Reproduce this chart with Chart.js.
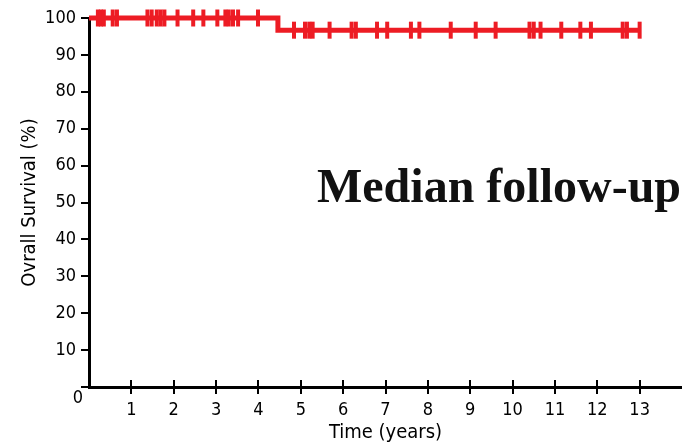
<!DOCTYPE html>
<html>
<head>
<meta charset="utf-8">
<script src="https://cdn.jsdelivr.net/npm/chart.js@4"></script>
<style>
  html, body { margin: 0; padding: 0; background: #fff; }
  #wrap { width: 682px; height: 446px; }
</style>
</head>
<body>
<div id="wrap"><canvas id="km"></canvas></div>
<script>
// survival curve (step points)
const curveTimes = [0, 4.46, 13.0];
const curveSurv = [100, 96.7, 96.7];

// censored patients
const censorTimes = [0.21, 0.28, 0.35, 0.56, 0.66, 1.38, 1.48, 1.6, 1.69, 1.78,
  2.09, 2.46, 2.7, 3.03, 3.22, 3.3, 3.4, 3.52, 3.99,
  4.84, 5.1, 5.2, 5.28, 5.68, 6.2, 6.3, 6.8, 7.04, 7.6, 7.8, 8.54, 9.13,
  9.6, 10.4, 10.5, 10.66, 11.15, 11.6, 11.85, 12.6, 12.7, 13.0];
const censorSurv = censorTimes.map(t => t < 4.46 ? 100 : 96.7);

const xTicks = [1, 2, 3, 4, 5, 6, 7, 8, 9, 10, 11, 12, 13];
const yTicks = [0, 10, 20, 30, 40, 50, 60, 70, 80, 90, 100];

const RED = '#ed1c24';
const FONT = "'Liberation Sans Narrow', 'DejaVu Sans Condensed', sans-serif";

const extras = {
  id: 'extras',
  afterDraw(chart) {
    const { ctx, scales: { x, y } } = chart;
    ctx.save();
    // inner half of x ticks
    ctx.strokeStyle = '#000';
    ctx.lineWidth = 2;
    xTicks.forEach(v => {
      const px = Math.round(x.getPixelForValue(v));
      ctx.beginPath();
      ctx.moveTo(px, y.bottom);
      ctx.lineTo(px, y.bottom - 7);
      ctx.stroke();
    });
    // origin label
    ctx.fillStyle = '#000';
    ctx.font = '18px ' + FONT;
    ctx.textAlign = 'center';
    ctx.textBaseline = 'middle';
    ctx.fillText('0', x.left - 11, y.bottom + 11);
    // annotation
    ctx.font = 'bold 48px "Liberation Serif", "Times New Roman", serif';
    ctx.textAlign = 'left';
    ctx.textBaseline = 'alphabetic';
    ctx.fillStyle = '#111';
    ctx.fillText('Median follow-up', 317, 202);
    ctx.restore();
  }
};

new Chart(document.getElementById('km'), {
  type: 'line',
  data: {
    datasets: [
      {
        label: 'Overall survival',
        data: curveTimes.map((t, i) => ({ x: t, y: curveSurv[i] })),
        borderColor: RED,
        borderWidth: 5,
        stepped: true,
        pointRadius: 0,
        fill: false,
        clip: false
      },
      {
        label: 'Censored',
        type: 'scatter',
        data: censorTimes.map((t, i) => ({ x: t, y: censorSurv[i] })),
        pointStyle: 'line',
        rotation: 90,
        pointRadius: 8.5,
        borderColor: RED,
        backgroundColor: RED,
        pointBorderWidth: 4,
        borderWidth: 4,
        showLine: false,
        clip: false
      }
    ]
  },
  options: {
    responsive: true,
    maintainAspectRatio: false,
    animation: false,
    events: [],
    layout: { autoPadding: false, padding: { top: 18, right: 0, left: 0, bottom: 0 } },
    plugins: { legend: { display: false }, tooltip: { enabled: false } },
    scales: {
      x: {
        type: 'linear',
        min: 0,
        max: 14,
        afterBuildTicks: s => { s.ticks = xTicks.map(v => ({ value: v })); },
        afterFit: s => { s.height = 59; s.paddingRight = 0; s.paddingLeft = 0; },
        grid: { display: true, drawOnChartArea: false, color: '#000', lineWidth: 2, tickLength: 7 },
        border: { display: true, color: '#000', width: 3 },
        ticks: { color: '#000', font: { family: FONT, size: 18 }, padding: 6, maxRotation: 0 },
        title: { display: true, text: 'Time (years)', color: '#000', font: { family: FONT, size: 20 }, padding: { top: 0, bottom: 1 } }
      },
      y: {
        min: 0,
        max: 100,
        afterBuildTicks: s => { s.ticks = yTicks.map(v => ({ value: v })); },
        afterFit: s => { s.width = 89; s.paddingTop = 0; s.paddingBottom = 0; },
        grid: { display: true, drawOnChartArea: false, color: '#000', lineWidth: 2, tickLength: 8 },
        border: { display: true, color: '#000', width: 3 },
        ticks: { color: '#000', font: { family: FONT, size: 18 }, padding: 5, callback: v => v === 0 ? '' : v },
        title: { display: true, text: 'Ovrall Survival (%)', color: '#000', font: { family: FONT, size: 20 }, padding: { top: 18, bottom: 0 } }
      }
    }
  },
  plugins: [extras]
});
</script>
</body>
</html>
